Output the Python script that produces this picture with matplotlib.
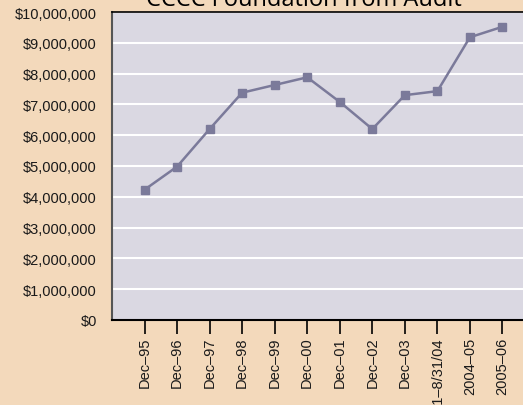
import matplotlib.pyplot as plt
from matplotlib.ticker import FuncFormatter

# 数据
periods = ['Dec–95', 'Dec–96', 'Dec–97', 'Dec–98', 'Dec–99', 'Dec–00', 'Dec–01',
           'Dec–02', 'Dec–03', '1/1–8/31/04', '2004–05', '2005–06']
values = [4230000, 4980000, 6200000, 7380000, 7630000, 7880000, 7080000,
          6200000, 7300000, 7430000, 9180000, 9520000]

plt.rcParams['font.family'] = ['Liberation Sans', 'DejaVu Sans']

fig = plt.figure(figsize=(5.23, 4.06), dpi=100, facecolor='#F3D9BB')
ax = fig.add_axes([112 / 523, 1 - 321 / 406, 423 / 523, 308 / 406])
ax.set_facecolor('#DAD8E2')

x = range(len(periods))
ax.plot(x, values, color='#7B7A9A', linewidth=1.8, marker='s', markersize=6,
        zorder=3)

ax.set_ylim(0, 10000000)
ax.set_yticks(range(0, 10000001, 1000000))
ax.yaxis.set_major_formatter(FuncFormatter(lambda v, p: '${:,.0f}'.format(v)))
ax.set_xlim(-1, 12)
ax.set_xticks(list(x))
ax.set_xticklabels(periods, rotation=90)

ax.grid(axis='y', color='white', linewidth=1.5)
ax.set_axisbelow(True)
ax.tick_params(axis='y', length=0, pad=11, labelsize=10.5, labelcolor='#1a1a1a')
ax.tick_params(axis='x', length=10, width=1.2, pad=2, labelsize=10.5,
               labelcolor='#1a1a1a')

ax.spines['left'].set_color('#555555')
ax.spines['left'].set_linewidth(1.5)
ax.spines['bottom'].set_color('black')
ax.spines['bottom'].set_linewidth(1.5)
ax.spines['top'].set_color('black')
ax.spines['top'].set_linewidth(1.2)
ax.spines['right'].set_visible(False)

fig.text(304 / 523, 1 - 6 / 406, 'CCCC Foundation from Audit', ha='center',
         va='baseline', fontsize=17, family=['Open Sans', 'DejaVu Sans'])

fig.savefig('out.png', dpi=100, facecolor=fig.get_facecolor())
